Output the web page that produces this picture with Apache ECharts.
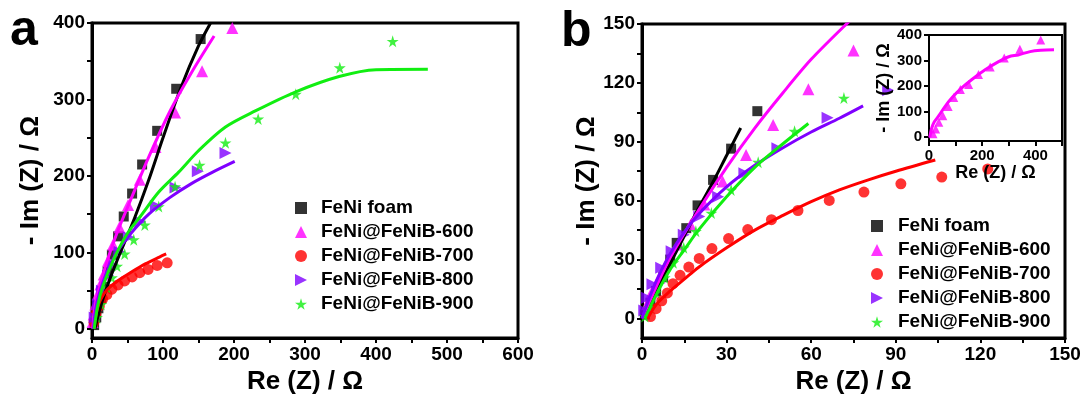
<!DOCTYPE html>
<html>
<head>
<meta charset="utf-8">
<script src="https://cdn.jsdelivr.net/npm/echarts@6/dist/echarts.min.js"></script>
<style>
html,body{margin:0;padding:0;background:#fff;}
#main{width:1086px;height:400px;}
</style>
</head>
<body>
<div id="main"></div>
<script>
// ---------- data ----------
const seriesNames = ['FeNi foam', 'FeNi@FeNiB-600', 'FeNi@FeNiB-700', 'FeNi@FeNiB-800', 'FeNi@FeNiB-900'];

// panel a (measured points)
const aFoamPts = [[3,5],[6,15],[9,27],[13,40],[17,55],[22,75],[28,97],[36.7,121],[44.7,147],[56.5,177],[70.6,215],[91.8,259],[118.6,314],[153,379]];
const a600Pts = [[0.9,9],[2.4,19],[4.7,32],[8,45],[11.8,58],[16.5,71],[22.6,89],[29.6,110],[38.6,133],[50.8,162],[67.3,195],[89.4,238],[117,283],[155,337],[197.6,393.5]];
const a700Pts = [[2.8,8.6],[5.6,19.5],[10.4,30],[15,39],[21,45],[28,52],[36.7,57.5],[46,62.7],[56.5,68],[67.3,73.5],[79,77.8],[91.8,83],[105.9,86.5]];
const a800Pts = [[3.8,15],[8.5,32],[14,50],[22.6,70],[29,84],[38.6,101],[51.8,120],[68,140],[90,161],[117.6,185],[149,206],[188,230]];
const a900Pts = [[7,15],[13,32],[21,54],[28,67],[35.3,82],[46,98],[58.8,116.7],[74.4,136],[94,160],[117,186],[151.5,214],[188,243.4],[234,274.6],[287,307],[349,341.6],[423.5,376]];
// panel a (fitted curves)
const aFoamFit = [[4,0],[8,15],[15,38],[25,65],[40,100],[60,145],[80,195],[100,250],[125,315],[150,370],[167,400]];
const a600Fit = [[1,0],[3,20],[6,38],[10,52],[20,85],[35,125],[55,170],[80,225],[110,285],[140,335],[172,383]];
const a700Fit = [[3,0],[5,15],[8,28],[12,38],[20,50],[35,62],[55,74],[75,85],[95,94],[104.5,98]];
const a800Fit = [[2,0],[5,25],[10,45],[20,72],[35,100],[55,125],[80,150],[110,172],[140,190],[170,205],[201,219]];
const a900Fit = [[3,0],[8,30],[15,55],[30,90],[50,125],[68,147],[94,179],[122,205],[150,233],[188,264],[230,285],[287,310],[348,330],[400,339],[473,339.5]];

// panel b (measured points)
const bFoamPts = [[1,2],[3,8],[5,14],[7.5,21],[10,30],[12.3,38.5],[15.7,46],[19.7,57.6],[25.2,70.6],[31.6,86.5],[40.9,105.6]];
const b600Pts = [[1.8,7.3],[3.4,13.2],[6.1,20.8],[9.2,29.2],[12.9,37.7],[17.2,47.8],[22.1,58],[28.6,69.8],[36.9,83.3],[46.5,98.5],[59,116.7],[75,136.5]];
const b700Pts = [[3,1],[5,5],[7,9],[9,13],[11,17.7],[13.5,22],[16.6,26.2],[20.3,30.6],[24.8,35.6],[30.7,40.7],[37.5,45.3],[45.9,50.3],[55.3,55],[66.4,60.1],[78.7,64.4],[91.8,68.6],[106.3,72],[122.6,76.2]];
const b800Pts = [[0.8,4],[1.8,10.6],[3.7,17.4],[6.8,25.8],[10.5,34.3],[14.8,42.7],[20.3,52],[27,62],[36.3,74],[48,86.7],[65.8,102.2],[87.3,116.2]];
const b900Pts = [[1,1],[2.5,5.6],[4.9,13.2],[8,20.8],[11.1,28.4],[14.8,36],[19.1,44.4],[24.6,53.7],[31.6,65.5],[41.2,79.6],[54.1,95.4],[71.6,112.3]];
// panel b (fitted curves)
const bFoamFit = [[0,0],[5,14],[10,28],[15,42],[20,56],[25,69],[30,83],[35,97]];
const b600Fit = [[0,0],[5,16],[10,31],[20,55],[30,77],[40,97],[50,115],[60,132],[72.5,150],[80,160]];
const b700Fit = [[2,0],[5,7],[10,14],[15,20],[20,26],[30,36],[40,45],[50,52.5],[60,59.5],[70,65.5],[80,70.5],[90,75],[104,80.7]];
const b800Fit = [[0,0],[3,12],[6,22],[10,33],[15,44],[20,53],[30,67],[40,78],[50,87],[60,95],[70,102],[78.4,108.3]];
const b900Fit = [[1,0],[5,12],[10,25],[15,35],[20,45],[30,62],[40,77],[50,89],[59,99.3]];

// inset (FeNi@FeNiB-600 full range)
const insetPts = [[15,13],[25,32],[37,58],[52,84],[72,120],[93,155],[118,187],[149,206],[186,245],[230,274.8],[283,309.6],[341.6,344],[420,380.6]];
const insetFit = [[3,0],[10,35],[20,60],[37,84],[60,120],[87,155],[120,190],[160,225],[211,264],[260,295],[300,315],[335,322],[380,335],[420,340],[470,342]];

// ticks / labels
const aXTicks = [0,50,100,150,200,250,300,350,400,450,500,550,600];
const aXLabels = [0,100,200,300,400,500,600];
const aYTicks = [0,50,100,150,200,250,300,350,400];
const aYLabels = [0,100,200,300,400];
const bXTicks = [0,15,30,45,60,75,90,105,120,135,150];
const bXLabels = [0,30,60,90,120,150];
const bYTicks = [0,15,30,45,60,75,90,105,120,135,150];
const bYLabels = [0,30,60,90,120,150];
const iXTicks = [0,100,200,300,400,500];
const iXLabels = [0,200,400];
const iYTicks = [0,100,200,300,400];
const iYLabels = [0,100,200,300,400];

// ---------- styling ----------
const FONT = '"Liberation Sans", Arial, sans-serif';
const colors = ['#000000', '#ff00ff', '#ff0000', '#7f00ff', '#11ee11'];
const STAR = 'path://M50,0 L61,35 L98,35 L68,57 L79,91 L50,70 L21,91 L32,57 L2,35 L39,35 Z';
const RTRI = 'path://M0,0 L10,5 L0,10 Z';
const symbols = ['rect', 'triangle', 'circle', RTRI, STAR];
const symSizes = [10, 12, 11, 12, 12];

function mkAxis(kind, grid, min, max, ticks, labels, name, fs, nfs, gap, lw) {
  return {
    type: 'value', gridIndex: grid, min: min, max: max, position: kind === 'x' ? 'bottom' : 'left',
    name: name, nameLocation: 'middle', nameGap: gap,
    nameTextStyle: {fontFamily: FONT, fontWeight: 'bold', fontSize: nfs, color: '#000'},
    axisLine: {show: true, onZero: false, lineStyle: {color: '#000', width: lw}},
    axisTick: {show: true, inside: false, length: 5, lineStyle: {color: '#000', width: 2}, customValues: ticks},
    axisLabel: {show: true, margin: 7, fontFamily: FONT, fontWeight: 'bold', fontSize: fs, color: '#000', customValues: labels},
    splitLine: {show: false}
  };
}

const aPts = [aFoamPts, a600Pts, a700Pts, a800Pts, a900Pts];
const aFit = [aFoamFit, a600Fit, a700Fit, a800Fit, a900Fit];
const bPts = [bFoamPts, b600Pts, b700Pts, b800Pts, b900Pts];
const bFit = [bFoamFit, b600Fit, b700Fit, b800Fit, b900Fit];

const series = [];
function addPanel(pts, fit, axis, tag) {
  for (let i = 0; i < 5; i++) {
    series.push({
      type: 'scatter', name: seriesNames[i], xAxisIndex: axis, yAxisIndex: axis,
      data: pts[i], symbol: symbols[i], symbolSize: symSizes[i],
      itemStyle: {color: colors[i]}, z: 2, silent: true
    });
  }
  for (let i = 0; i < 5; i++) {
    series.push({
      type: 'line', name: tag + ' fit ' + i, xAxisIndex: axis, yAxisIndex: axis,
      data: fit[i], showSymbol: false, smooth: 0.3, clip: true,
      lineStyle: {color: colors[i], width: 3}, itemStyle: {color: colors[i]}, z: 3, silent: true
    });
  }
}
addPanel(aPts, aFit, 0, 'a');
addPanel(bPts, bFit, 1, 'b');
series.push({
  type: 'scatter', name: 'inset 600', xAxisIndex: 2, yAxisIndex: 2, data: insetPts,
  symbol: 'triangle', symbolSize: 9, itemStyle: {color: colors[1]}, z: 12, silent: true
});
series.push({
  type: 'line', name: 'inset fit', xAxisIndex: 2, yAxisIndex: 2, data: insetFit,
  showSymbol: false, smooth: 0.3, lineStyle: {color: colors[1], width: 3}, z: 13, silent: true
});

function mkLegend(left, top, pad) {
  return {
    left: left, top: top, orient: 'vertical', itemWidth: 12, itemHeight: 12, itemGap: 4,
    selectedMode: false, symbolKeepAspect: true,
    textStyle: {fontFamily: FONT, fontWeight: 'bold', fontSize: 19, color: '#000', lineHeight: 20, padding: [0, 0, 0, pad]},
    data: seriesNames
  };
}

const chart = echarts.init(document.getElementById('main'), null, {renderer: 'canvas'});
chart.setOption({
  backgroundColor: '#fff',
  animation: false,
  grid: [
    {left: 92, top: 23, width: 426, height: 318, show: true, borderColor: '#000', borderWidth: 3, backgroundColor: 'transparent'},
    {left: 642, top: 24, width: 423, height: 318, show: true, borderColor: '#000', borderWidth: 3, backgroundColor: 'transparent'},
    {left: 929, top: 35, width: 133, height: 106, show: true, borderColor: '#000', borderWidth: 2, backgroundColor: '#fff', z: 10}
  ],
  xAxis: [
    mkAxis('x', 0, 0, 600, aXTicks, aXLabels, 'Re (Z) / Ω', 19, 26, 30, 3),
    mkAxis('x', 1, 0, 150, bXTicks, bXLabels, 'Re (Z) / Ω', 19, 26, 30, 3),
    Object.assign(mkAxis('x', 2, 0, 500, iXTicks, iXLabels, 'Re (Z) / Ω', 15, 18, 17, 2), {z: 11})
  ],
  yAxis: [
    mkAxis('y', 0, -12, 400, aYTicks, aYLabels, '- Im (Z) / Ω', 19, 26, 48, 3),
    mkAxis('y', 1, -10, 150, bYTicks, bYLabels, '- Im (Z) / Ω', 19, 26, 42, 3),
    Object.assign(mkAxis('y', 2, -15, 400, iYTicks, iYLabels, '- Im (Z) / Ω', 15, 18, 26, 2), {z: 11})
  ],
  legend: [mkLegend(290, 193, 9), mkLegend(866, 211, 10)],
  graphic: [
    {type: 'text', left: 10, top: 6, style: {text: 'a', font: 'bold 50px ' + FONT, fill: '#000'}},
    {type: 'text', left: 561, top: 7, style: {text: 'b', font: 'bold 50px ' + FONT, fill: '#000'}}
  ],
  series: series
});
</script>
</body>
</html>
